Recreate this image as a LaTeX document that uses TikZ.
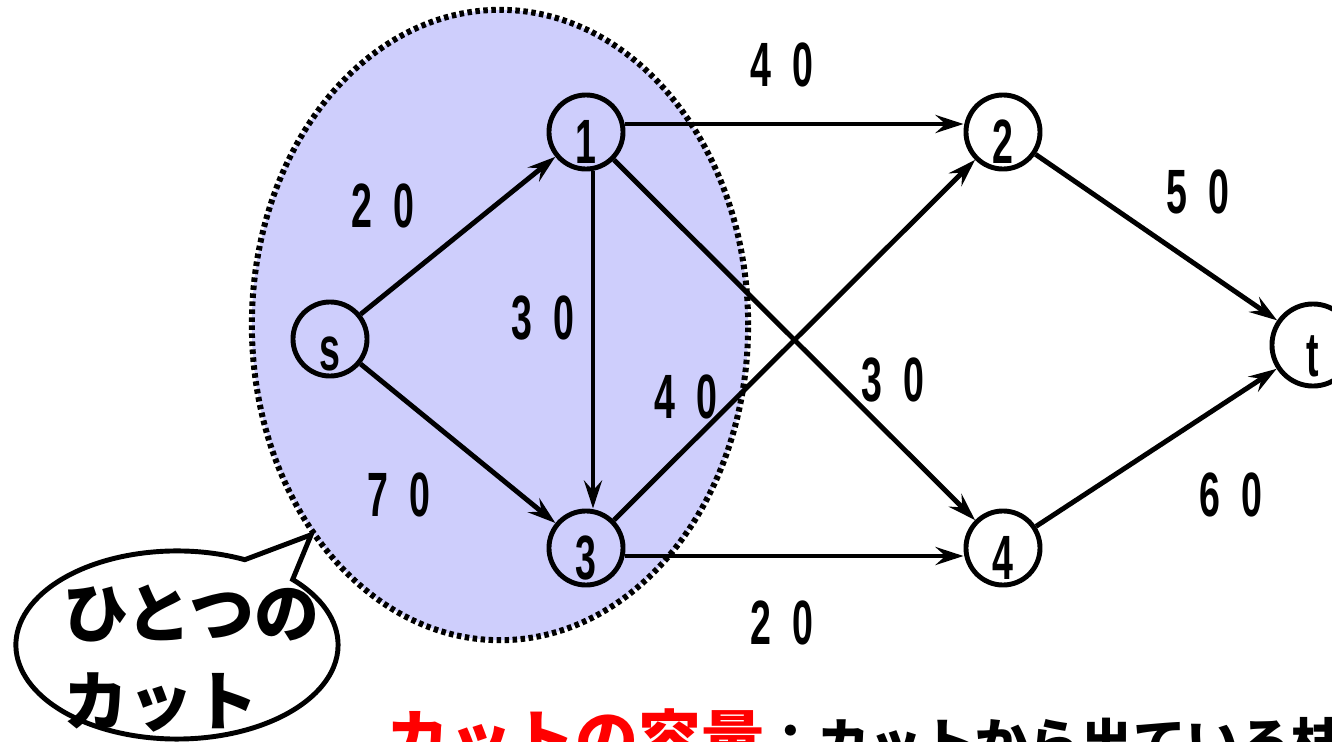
\documentclass[tikz,border=0pt]{standalone}
\usepackage{fontspec}
\usepackage{xcolor}
\usetikzlibrary{arrows.meta,shapes.geometric,shapes.callouts,calc}
\newfontfamily\lblfont[FakeStretch=0.6]{Liberation Sans}
\newfontfamily\cjk{Noto Sans CJK JP}
\definecolor{cCut}{RGB}{206,206,252}
\definecolor{cRed}{HTML}{FF0000}
\newcommand{\capa}[2]{#1\hspace{0.21cm}#2}
\tikzset{
  vtx/.style={circle,draw,line width=1.4pt,inner sep=0pt,minimum size=0.74cm,text height=0.62cm,text depth=0pt,font=\lblfont\bfseries\fontsize{17.8pt}{20pt}\selectfont},
  arc/.style={-{Stealth[length=0.28cm,width=0.18cm,inset=0.1cm]},line width=1.4pt},
  wlbl/.style={font=\lblfont\bfseries\fontsize{17.8pt}{20pt}\selectfont,inner sep=0pt},
  cutset/.style={ellipse,fill=cCut,draw,line width=0.06cm,dash pattern=on 0.045cm off 0.035cm,minimum width=4.96cm,minimum height=6.3cm},
  bubble/.style={ellipse callout,draw,fill=white,line width=1.4pt,minimum width=3.22cm,minimum height=1.88cm,callout pointer arc=21},
}

\begin{document}
\begin{tikzpicture}[x=0.01cm,y=-0.01cm]
  \useasboundingbox (0,0) rectangle (1332,742);
  % the cut
  \node[cutset] (cut) at (500,325) {};
  \coordinate (tip) at (cut.-132);
  \node[bubble,callout absolute pointer={(tip)}] (bub) at (177,645) {};
  \node[align=left,anchor=west,font=\cjk\bfseries\fontsize{18.5pt}{25pt}\selectfont,inner sep=0pt] (bubtxt) at (63,659) {ひとつの\\カット};
  % vertices
  \node[vtx] (ns) at (330,339) {s};
  \node[vtx] (n1) at (586,132) {1};
  \node[vtx] (n2) at (1003,132) {2};
  \node[vtx] (n3) at (586,548) {3};
  \node[vtx] (n4) at (1003,548) {4};
  \node[vtx,minimum size=0.82cm] (nt) at (1313,345) {t};
  % arcs
  \draw[arc] (ns) -- (n1);
  \draw[arc] (ns) -- (n3);
  \draw[arc] ([yshift=0.08cm]n1.east) -- ([yshift=0.08cm]n2.west);
  \draw[arc] ([xshift=0.07cm]n1.south) -- ([xshift=0.07cm]n3.north);
  \draw[arc] (n1) -- (n4);
  \draw[arc] (n3) -- (n2);
  \draw[arc] ([yshift=-0.08cm]n3.east) -- ([yshift=-0.08cm]n4.west);
  \draw[arc] (n2) -- (nt);
  \draw[arc] (n4) -- (nt);
  % capacities
  \node[wlbl] (c12) at (782,65) {\capa{4}{0}};
  \node[wlbl] (cs1) at (383,206) {\capa{2}{0}};
  \node[wlbl] (c13) at (543,318) {\capa{3}{0}};
  \node[wlbl] (c32) at (686,397) {\capa{4}{0}};
  \node[wlbl] (c14) at (893,380) {\capa{3}{0}};
  \node[wlbl] (c2t) at (1198,192) {\capa{5}{0}};
  \node[wlbl] (c4t) at (1231,495) {\capa{6}{0}};
  \node[wlbl] (cs3) at (399,495) {\capa{7}{0}};
  \node[wlbl] (c34) at (782,623) {\capa{2}{0}};
  % caption
  \node[anchor=base west,inner sep=0pt] (capt) at (386,762) {\cjk\bfseries\fontsize{17.9pt}{20pt}\selectfont\textcolor{cRed}{カットの容量}\fontsize{15pt}{18pt}\selectfont：カットから出ている枝};
\end{tikzpicture}
\end{document}
